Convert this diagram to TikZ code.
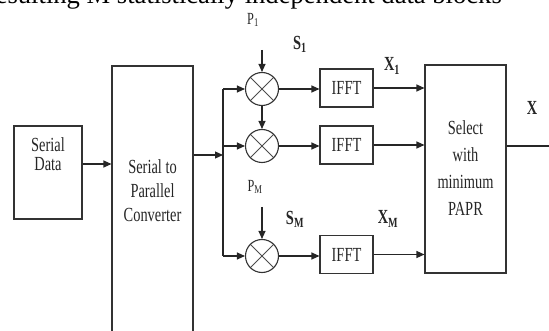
\documentclass[tikz,border=0pt]{standalone}
\usepackage{fontspec}
\setmainfont{Liberation Serif}
\newfontfamily\narrowserif{Liberation Serif}[FakeStretch=0.72]
\usetikzlibrary{arrows.meta}

\tikzset{
  blockbox/.style={draw=black!80, line width=1.1pt, inner sep=0pt},
  mixer/.style={draw=black!80, circle, line width=1.1pt, minimum size=33pt, inner sep=0pt,
    path picture={\draw[black!70, line width=0.8pt]
      (path picture bounding box.north west) -- (path picture bounding box.south east)
      (path picture bounding box.north east) -- (path picture bounding box.south west);}},
  flow/.style={draw=black!85, line width=1.1pt, -{Triangle[length=8pt,width=7pt]}},
  boxtext/.style={font=\narrowserif\fontsize{20}{24}\selectfont, align=center, text=black!85},
  siglabel/.style={font=\narrowserif\fontsize{20}{20}\selectfont\bfseries, text=black!85},
  plabel/.style={font=\narrowserif\fontsize{17}{17}\selectfont, text=black!85},
}

\begin{document}
\begin{tikzpicture}[x=1pt,y=-1pt]
    \useasboundingbox (0,0) rectangle (549,331);
    \clip (0,0) rectangle (549,331);

    % Caption line, cut off at the top
    \node[anchor=base east, inner sep=0pt, font=\fontsize{26.6}{27}\selectfont] (caption) at (502,4) {resulting M statistically independent data blocks};

    % Blocks
    \node[blockbox, minimum width=68pt, minimum height=93pt] (sdata) at (48,172.5) {};
    \node[boxtext, font=\narrowserif\fontsize{20}{19.5}\selectfont] (sdatatext) at (48,154) {Serial\\Data};
    \node[blockbox, minimum width=81pt, minimum height=279pt] (sp) at (152.5,205.5) {};
    \node[boxtext] (sptext) at (152.5,191) {Serial to\\Parallel\\Converter};
    \node[blockbox, minimum width=81pt, minimum height=208pt] (sel) at (465.5,169) {};
    \node[boxtext, font=\narrowserif\fontsize{20}{27}\selectfont] (seltext) at (465.5,168) {Select\\with\\minimum\\PAPR};

    % Multipliers
    \node[mixer] (mix1) at (262,89) {};
    \node[mixer] (mix2) at (262,146) {};
    \node[mixer] (mixm) at (262,256) {};

    % IFFT blocks
    \node[blockbox, minimum width=53pt, minimum height=38pt, boxtext] (ifft1) at (346.5,88) {IFFT};
    \node[blockbox, minimum width=53pt, minimum height=38pt, boxtext] (ifft2) at (346.5,145) {IFFT};
    \node[blockbox, minimum width=53pt, minimum height=38pt, boxtext] (ifftm) at (346.5,254.5) {IFFT};

    % Labels
    \node[plabel] (p1) at (253,20) {P\textsubscript{1}};
    \node[plabel] (pm) at (255,187) {P\textsubscript{M}};
    \node[siglabel] (s1) at (300,44) {S\textsubscript{1}};
    \node[siglabel] (sm) at (295,219) {S\textsubscript{M}};
    \node[siglabel] (x1) at (392,66) {X\textsubscript{1}};
    \node[siglabel] (xm) at (388,219) {X\textsubscript{M}};
    \node[siglabel] (xlab) at (532,108) {X};

    % Input side
    \draw[flow] ([yshift=8.5pt]sdata.east) -- ([yshift=8.5pt]sdata.east -| sp.west);
    \coordinate (bus) at (223,155);
    \draw[flow] (sp.east |- bus) -- (bus);
    \draw[draw=black!85, line width=1.1pt] (bus |- mix1) -- (bus |- mixm);
    \foreach \m in {mix1,mix2,mixm}
      \draw[flow] (bus |- \m) -- (\m);

    % Phase sequences
    \coordinate (p1in) at (262,50);
    \coordinate (pmin) at (262,207);
    \draw[flow] (p1in) -- (mix1);
    \draw[flow] (mix1) -- (mix2);
    \draw[flow] (pmin) -- (mixm);

    % Branches
    \draw[flow] (mix1) -- (mix1 -| ifft1.west);
    \draw[flow] (mix2) -- (mix2 -| ifft2.west);
    \draw[flow] (mixm) -- (mixm -| ifftm.west);
    \foreach \f in {ifft1,ifft2,ifftm}
      \draw[flow] (\f.east) -- (\f.east -| sel.west);

    % Output
    \coordinate (xout) at (552,146);
    \draw[draw=black!85, line width=1.1pt] (sel.east |- xout) -- (xout);
\end{tikzpicture}
\end{document}
